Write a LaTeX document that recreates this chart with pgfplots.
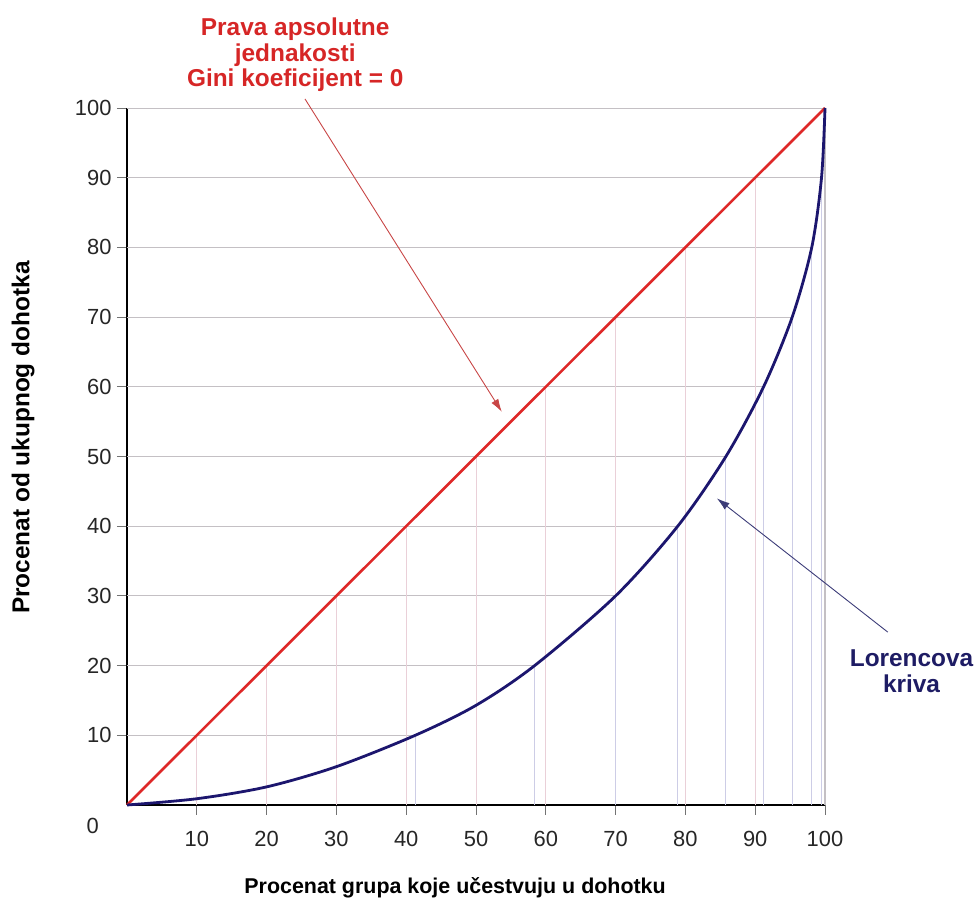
\documentclass[border=0pt]{standalone}
\usepackage{pgfplots}
\pgfplotsset{compat=1.18}
\usepackage{fontspec}
\setmainfont{Liberation Sans}
\usetikzlibrary{arrows.meta}

\definecolor{redline}{RGB}{222,40,40}
\definecolor{navy}{RGB}{28,22,110}
\definecolor{gridgray}{RGB}{196,192,196}
\definecolor{pinkgrid}{RGB}{234,208,216}
\definecolor{bluegrid}{RGB}{205,205,230}
\definecolor{redtext}{RGB}{214,38,38}
\definecolor{navytext}{RGB}{30,28,100}
\definecolor{redarrow}{RGB}{200,70,70}
\definecolor{bluearrow}{RGB}{60,60,120}

\begin{document}
\begin{tikzpicture}[x=1bp,y=1bp]
\path[use as bounding box] (-127,-103) rectangle (849,805);
\begin{axis}[
  at={(0,0)}, anchor=south west,
  scale only axis, width=698bp, height=697bp,
  xmin=0, xmax=100, ymin=0, ymax=100,
  axis x line*=bottom, axis y line*=left,
  axis line style={black, line width=2.2bp, -},
  xtick={10,20,...,100}, ytick={10,20,...,100},
  tick align=center,
  major tick length=20bp,
  tick style={black!55, line width=0.8bp},
  /pgf/number format/assume math mode=true,
  tick label style={font=\fontsize{22}{22}\selectfont, text=black!85},
  xticklabel style={yshift=-13bp},
  yticklabel style={xshift=-2bp},
  clip=false,
]
% horizontal grid lines, ending at the Lorenz curve
\addplot[xcomb, gridgray, line width=0.9bp, forget plot] coordinates {
  (41.3,10) (58.4,20) (70.0,30) (78.9,40) (85.8,50)
  (91.2,60) (95.3,70) (98.1,80) (99.5,90) (100,100)};
% vertical lines up to the equality line
\addplot[ycomb, pinkgrid, line width=0.9bp, forget plot] coordinates {
  (10,10) (20,20) (30,30) (40,40) (50,50)
  (60,60) (70,70) (80,80) (90,90)};
\addplot[ycomb, gridgray, line width=1.2bp, forget plot] coordinates {(100,100)};
% vertical lines up to the Lorenz curve
\addplot[ycomb, bluegrid, line width=0.9bp, forget plot] coordinates {
  (41.3,10) (58.4,20) (70.0,30) (78.9,40) (85.8,50)
  (91.2,60) (95.3,70) (98.1,80) (99.5,90)};

% line of absolute equality
\addplot[redline, line width=2.6bp] coordinates {(0,0) (100,100)};
% Lorenz curve
\addplot[navy, line width=2.8bp, smooth] coordinates {
  (0,0) (10,0.9) (20,2.6) (30,5.5) (41.3,10) (50,14.3)
  (58.4,20) (70.0,30) (78.9,40) (85.8,50) (91.2,60)
  (95.3,70) (98.1,80) (99.5,90) (100,100)};

\node[font=\fontsize{22}{22}\selectfont, text=black!85] at (axis cs:-4.9,-3.0) {0};

\node[text=redtext, font=\bfseries\fontsize{24.5}{25.5}\selectfont, align=center]
  at (axis cs:24.1,107.6) {Prava apsolutne\\jednakosti\\Gini koeficijent = 0};
\draw[-{Latex[length=13bp,width=8bp]}, redarrow, line width=0.9bp]
  (axis cs:25.5,101.3) -- (axis cs:53.7,56.4);

\node[text=navytext, font=\bfseries\fontsize{24.5}{25.5}\selectfont, align=center]
  at (axis cs:112.4,19.2) {Lorencova\\kriva};
\draw[-{Latex[length=13bp,width=8bp]}, bluearrow, line width=0.9bp]
  (axis cs:109.0,24.8) -- (axis cs:84.5,44.0);

\node[rotate=90, font=\bfseries\fontsize{24.5}{24.5}\selectfont]
  at (axis cs:-14.9,52.7) {Procenat od ukupnog dohotka};
\node[font=\bfseries\fontsize{21.5}{21.5}\selectfont]
  at (axis cs:47.0,-11.9) {Procenat grupa koje učestvuju u dohotku};
\end{axis}
\end{tikzpicture}
\end{document}
